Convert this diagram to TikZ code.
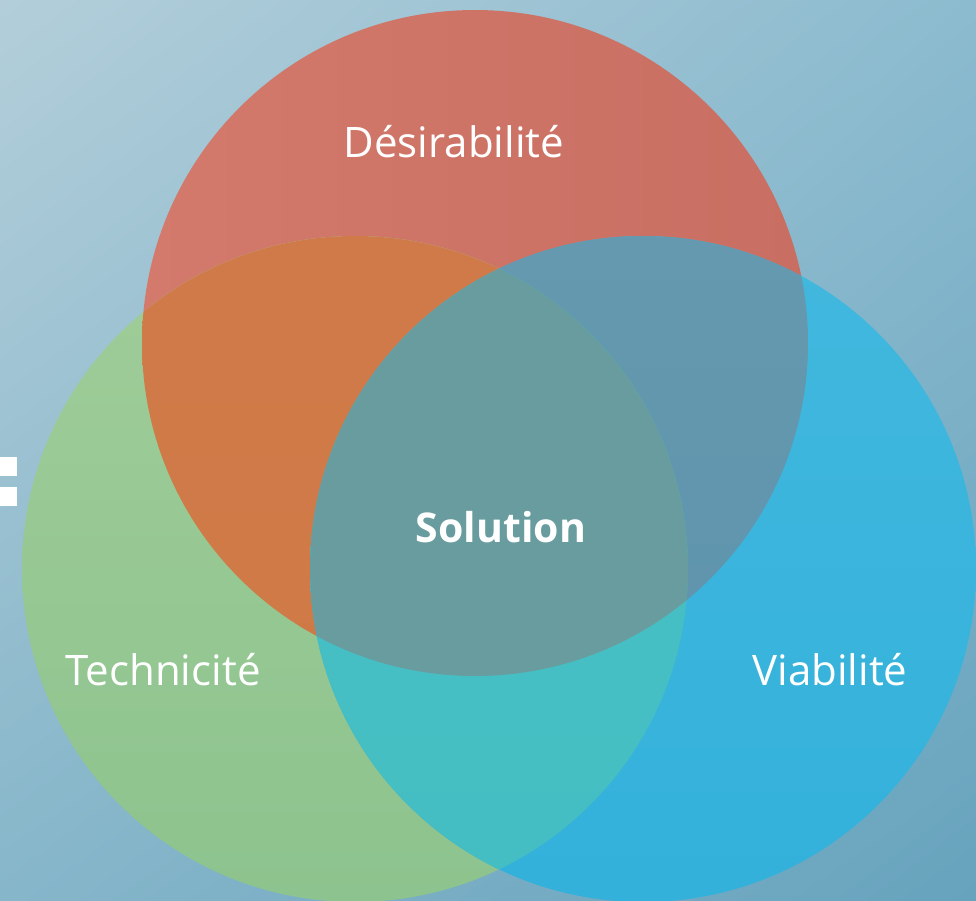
\documentclass[tikz,border=0pt]{standalone}
\usepackage{fontspec}
\setmainfont{Open Sans}
\usetikzlibrary{shadings}
\definecolor{bgUL}{HTML}{B3CEDA}
\definecolor{bgUR}{HTML}{8CBBCF}
\definecolor{bgLL}{HTML}{86B6CA}
\definecolor{bgLR}{HTML}{67A3BD}
\definecolor{redA}{HTML}{D47A6C}
\definecolor{redB}{HTML}{C86E62}
\definecolor{greenA}{HTML}{A0CD99}
\definecolor{greenB}{HTML}{8DC38E}
\definecolor{blueA}{HTML}{42B8DE}
\definecolor{blueB}{HTML}{33B1DB}
\definecolor{orangeA}{HTML}{D07A4A}
\definecolor{orangeB}{HTML}{CF7A46}
\definecolor{slateA}{HTML}{6499AF}
\definecolor{slateB}{HTML}{5F94AD}
\definecolor{tealA}{HTML}{48C1C5}
\definecolor{tealB}{HTML}{45BEC3}
\definecolor{midA}{HTML}{689C9E}
\def\redc{(475,343) circle[radius=333]}
\def\greenc{(355,569) circle[radius=333]}
\def\bluec{(643,569) circle[radius=333]}
\tikzset{
  lbl/.style={text=white, anchor=base, inner sep=0pt, font=\fontsize{42}{46}\selectfont},
  lblb/.style={text=white, anchor=base, inner sep=0pt, font=\fontsize{41}{46}\selectfont\bfseries}
}
\begin{document}
\begin{tikzpicture}[x=1pt,y=-1pt]
\useasboundingbox (0,0) rectangle (976,900);
\shade[upper left=bgUL, upper right=bgUR, lower left=bgLL, lower right=bgLR] (0,0) rectangle (976,900);
\fill[white] (0,457) rectangle (17,476);
\fill[white] (0,487) rectangle (17,506);
% red
\begin{scope}
\clip \redc;
\shade[upper left=redA, lower right=redB, upper right=redB, lower left=redA] (142,10) rectangle (808,676);
\end{scope}
% green
\begin{scope}
\clip \greenc;
\shade[upper left=greenA, lower right=greenB, upper right=greenA, lower left=greenB] (22,236) rectangle (688,902);
\end{scope}
% blue
\begin{scope}
\clip \bluec;
\shade[upper left=blueA, lower right=blueB, upper right=blueA, lower left=blueB] (310,236) rectangle (976,902);
\end{scope}
% red and green
\begin{scope}
\clip \redc;
\clip \greenc;
\shade[upper left=orangeA, lower right=orangeB, upper right=orangeA, lower left=orangeB] (142,236) rectangle (688,676);
\end{scope}
% red and blue
\begin{scope}
\clip \redc;
\clip \bluec;
\shade[upper left=slateA, lower right=slateB, upper right=slateA, lower left=slateB] (310,236) rectangle (808,676);
\end{scope}
% green and blue
\begin{scope}
\clip \greenc;
\clip \bluec;
\shade[upper left=tealA, lower right=tealB, upper right=tealA, lower left=tealB] (310,236) rectangle (688,902);
\end{scope}
% all three
\begin{scope}
\clip \redc;
\clip \greenc;
\clip \bluec;
\fill[midA] (310,236) rectangle (688,676);
\end{scope}
\node[lbl] (des) at (454,157) {Désirabilité};
\node[lblb] (sol) at (501,542) {Solution};
\node[lbl] (tec) at (163,685) {Technicité};
\node[lbl] (via) at (830,685) {Viabilité};
\end{tikzpicture}
\end{document}
